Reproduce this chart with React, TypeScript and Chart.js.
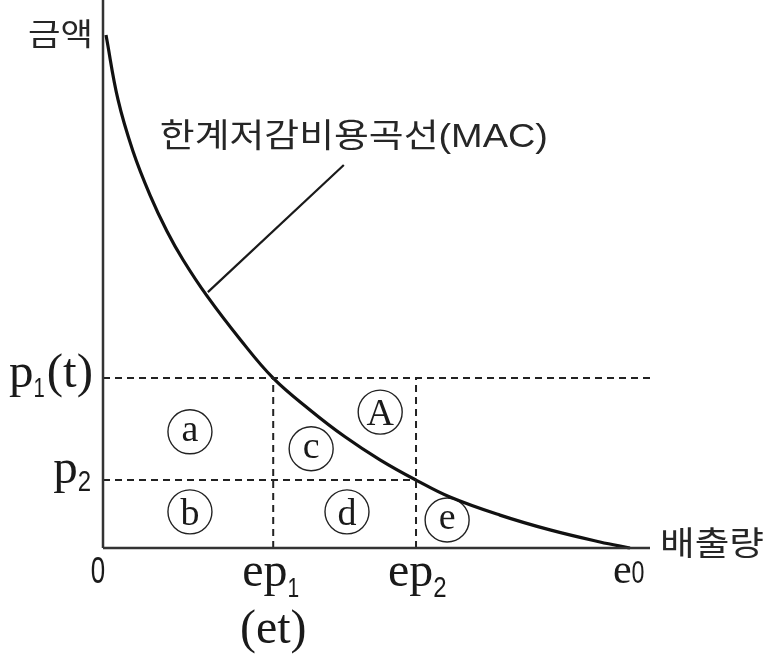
import React, { useEffect, useRef } from "react";
import { Chart, registerables } from "chart.js";

Chart.register(...registerables);

// Axis extents (x: emissions, e0 = 100; y: amount)
const X_MAX = 103.8;
const Y_MAX = 100;

// Key levels
const P1 = 31.0;
const P2 = 12.4;
const EP1 = 32.3;
const EP2 = 59.4;
const E0 = 100;

// MAC curve
const curveX = [0.57, 2.85, 5.69, 8.92, 12.14, 15.18, 19.73, 26.0, 32.3, 39.28, 45.92, 52.56, 59.4, 65.84, 75.33, 84.82, 94.31, 100];
const curveY = [93.6, 81.8, 72.4, 64.4, 57.8, 52.6, 46.0, 38.1, 31.0, 25.2, 20.3, 16.1, 12.4, 9.3, 6.0, 3.3, 1.1, 0];

// Leader line for the curve label
const leaderX = [19.9, 45.7];
const leaderY = [46.7, 69.9];

// Circled region labels
const regionLabels = ["a", "b", "c", "A", "d", "e"];
const regionX = [16.5, 16.5, 39.5, 52.6, 46.3, 65.3];
const regionY = [21.2, 6.6, 18.1, 24.8, 6.6, 5.1];

const SERIF = '"Liberation Serif", "Times New Roman", serif';
const SANS = '"Liberation Sans", "Noto Sans CJK KR", sans-serif';
const KR = '"Liberation Sans", "Noto Sans CJK KR", sans-serif';
const INK = "#1a1a1a";

type Part = { t: string; font: string; dy?: number; sx?: number; gap?: number };

function drawRich(ctx: CanvasRenderingContext2D, parts: Part[], x: number, y: number, align: "left" | "right" | "center") {
  const widths = parts.map((p) => {
    ctx.font = p.font;
    return ctx.measureText(p.t).width * (p.sx ?? 1) + (p.gap ?? 0);
  });
  const total = widths.reduce((a, b) => a + b, 0);
  let cx = align === "left" ? x : align === "right" ? x - total : x - total / 2;
  ctx.textBaseline = "alphabetic";
  ctx.textAlign = "left";
  parts.forEach((p, i) => {
    ctx.save();
    ctx.font = p.font;
    ctx.translate(cx, y + (p.dy ?? 0));
    ctx.scale(p.sx ?? 1, 1);
    ctx.fillText(p.t, 0, 0);
    ctx.restore();
    cx += widths[i];
  });
}

// draw text so that it spans exactly `width` px starting at `left`, vertically centred on `cy`
function drawFit(ctx: CanvasRenderingContext2D, text: string, font: string, left: number, cy: number, width: number) {
  ctx.save();
  ctx.font = font;
  ctx.textAlign = "left";
  ctx.textBaseline = "middle";
  const w = ctx.measureText(text).width;
  ctx.translate(left, cy);
  ctx.scale(width / w, 1);
  ctx.fillText(text, 0, 0);
  ctx.restore();
}

const labelPlugin = {
  id: "labels",
  afterDatasetsDraw(chart: any) {
    const ctx: CanvasRenderingContext2D = chart.ctx;
    const xs = chart.scales.x;
    const ys = chart.scales.y;
    const x0 = xs.getPixelForValue(0);
    const y0 = ys.getPixelForValue(0);
    ctx.save();
    ctx.fillStyle = "#262626";

    // y-axis title
    drawFit(ctx, "금액", `31px ${KR}`, x0 - 75, ys.getPixelForValue(Y_MAX) + 36, 65);

    // curve label
    drawFit(
      ctx,
      "한계저감비용곡선(MAC)",
      `33px ${KR}`,
      xs.getPixelForValue(leaderX[1]) - 184,
      ys.getPixelForValue(leaderY[1]) - 27,
      388
    );

    // x-axis title
    drawFit(ctx, "배출량", `33px ${KR}`, xs.getPixelForValue(X_MAX) + 10, y0 - 2, 104);

    ctx.fillStyle = INK;
    // origin
    drawRich(ctx, [{ t: "0", font: `36px ${SANS}`, sx: 0.72 }], x0 - 5, y0 + 35, "center");

    // y ticks
    const yp1 = ys.getPixelForValue(P1);
    const yp2 = ys.getPixelForValue(P2);
    drawRich(
      ctx,
      [
        { t: "p", font: `49px ${SERIF}` },
        { t: "1", font: `27px ${SANS}`, dy: 10, sx: 0.75, gap: 2 },
        { t: "(t)", font: `49px ${SERIF}` },
      ],
      x0 - 10,
      yp1 + 9,
      "right"
    );
    drawRich(
      ctx,
      [
        { t: "p", font: `49px ${SERIF}` },
        { t: "2", font: `30px ${SANS}`, dy: 8, sx: 0.8 },
      ],
      x0 - 12,
      yp2 + 3,
      "right"
    );

    // x ticks
    const xe1 = xs.getPixelForValue(EP1);
    const xe2 = xs.getPixelForValue(EP2);
    const xe0 = xs.getPixelForValue(E0);
    drawRich(
      ctx,
      [
        { t: "ep", font: `48px ${SERIF}` },
        { t: "1", font: `28px ${SANS}`, dy: 11, sx: 0.75 },
      ],
      xe1 - 31,
      y0 + 38,
      "left"
    );
    drawRich(ctx, [{ t: "(et)", font: `48px ${SERIF}` }], xe1, y0 + 95, "center");
    drawRich(
      ctx,
      [
        { t: "ep", font: `48px ${SERIF}` },
        { t: "2", font: `30px ${SANS}`, dy: 11, sx: 0.8 },
      ],
      xe2 - 28,
      y0 + 38,
      "left"
    );
    drawRich(
      ctx,
      [
        { t: "e", font: `42px ${SERIF}` },
        { t: "0", font: `31px ${SANS}`, sx: 0.75 },
      ],
      xe0 - 17,
      y0 + 35,
      "left"
    );

    // circled letters
    ctx.font = `38px ${SERIF}`;
    ctx.textAlign = "center";
    ctx.textBaseline = "alphabetic";
    regionLabels.forEach((lab, i) => {
      const px = xs.getPixelForValue(regionX[i]);
      const py = ys.getPixelForValue(regionY[i]);
      const m = ctx.measureText(lab);
      const asc = m.actualBoundingBoxAscent;
      const desc = m.actualBoundingBoxDescent;
      ctx.fillText(lab, px, py + (asc - desc) / 2);
    });
    ctx.restore();
  },
};

export default function App() {
  const ref = useRef<HTMLCanvasElement>(null);
  useEffect(() => {
    if (!ref.current) return;
    const line = (pts: { x: number; y: number }[], extra: any = {}) => ({
      data: pts,
      showLine: true,
      pointRadius: 0,
      borderColor: "#222",
      borderWidth: 2,
      clip: false,
      ...extra,
    });
    const dash = [7, 5];
    const chart = new Chart(ref.current, {
      type: "scatter",
      data: {
        datasets: [
          line([{ x: 0, y: 0 }, { x: X_MAX, y: 0 }], { borderColor: "#333", borderWidth: 2.5 }),
          line([{ x: 0, y: 0 }, { x: 0, y: Y_MAX }], { borderColor: "#333", borderWidth: 2.5 }),
          line([{ x: 0, y: P1 }, { x: X_MAX, y: P1 }], { borderDash: dash }),
          line([{ x: 0, y: P2 }, { x: EP2, y: P2 }], { borderDash: dash }),
          line([{ x: EP1, y: 0 }, { x: EP1, y: P1 }], { borderDash: dash }),
          line([{ x: EP2, y: 0 }, { x: EP2, y: P1 }], { borderDash: dash }),
          line(
            curveX.map((x, i) => ({ x, y: curveY[i] })),
            { borderColor: "#111", borderWidth: 3.2, tension: 0.4 }
          ),
          line(leaderX.map((x, i) => ({ x, y: leaderY[i] })), { borderColor: "#1a1a1a", borderWidth: 2.2 }),
          {
            data: regionX.map((x, i) => ({ x, y: regionY[i] })),
            showLine: false,
            pointRadius: 22,
            pointHoverRadius: 22,
            pointStyle: "circle",
            backgroundColor: "rgba(255,255,255,0)",
            borderColor: "#222",
            borderWidth: 1.4,
            clip: false,
          },
        ],
      },
      options: {
        animation: false,
        responsive: false,
        events: [],
        layout: { autoPadding: false, padding: { left: 103, right: 117, top: 0, bottom: 112 } },
        plugins: { legend: { display: false }, tooltip: { enabled: false } },
        scales: {
          x: { type: "linear", min: 0, max: X_MAX, display: false },
          y: { type: "linear", min: 0, max: Y_MAX, display: false },
        },
      },
      plugins: [labelPlugin],
    });
    return () => chart.destroy();
  }, []);
  return (
    <div style={{ position: "absolute", left: 0, top: 0, width: 767, height: 660, background: "#fff" }}>
      <canvas ref={ref} width={767} height={660} style={{ display: "block" }} />
    </div>
  );
}
